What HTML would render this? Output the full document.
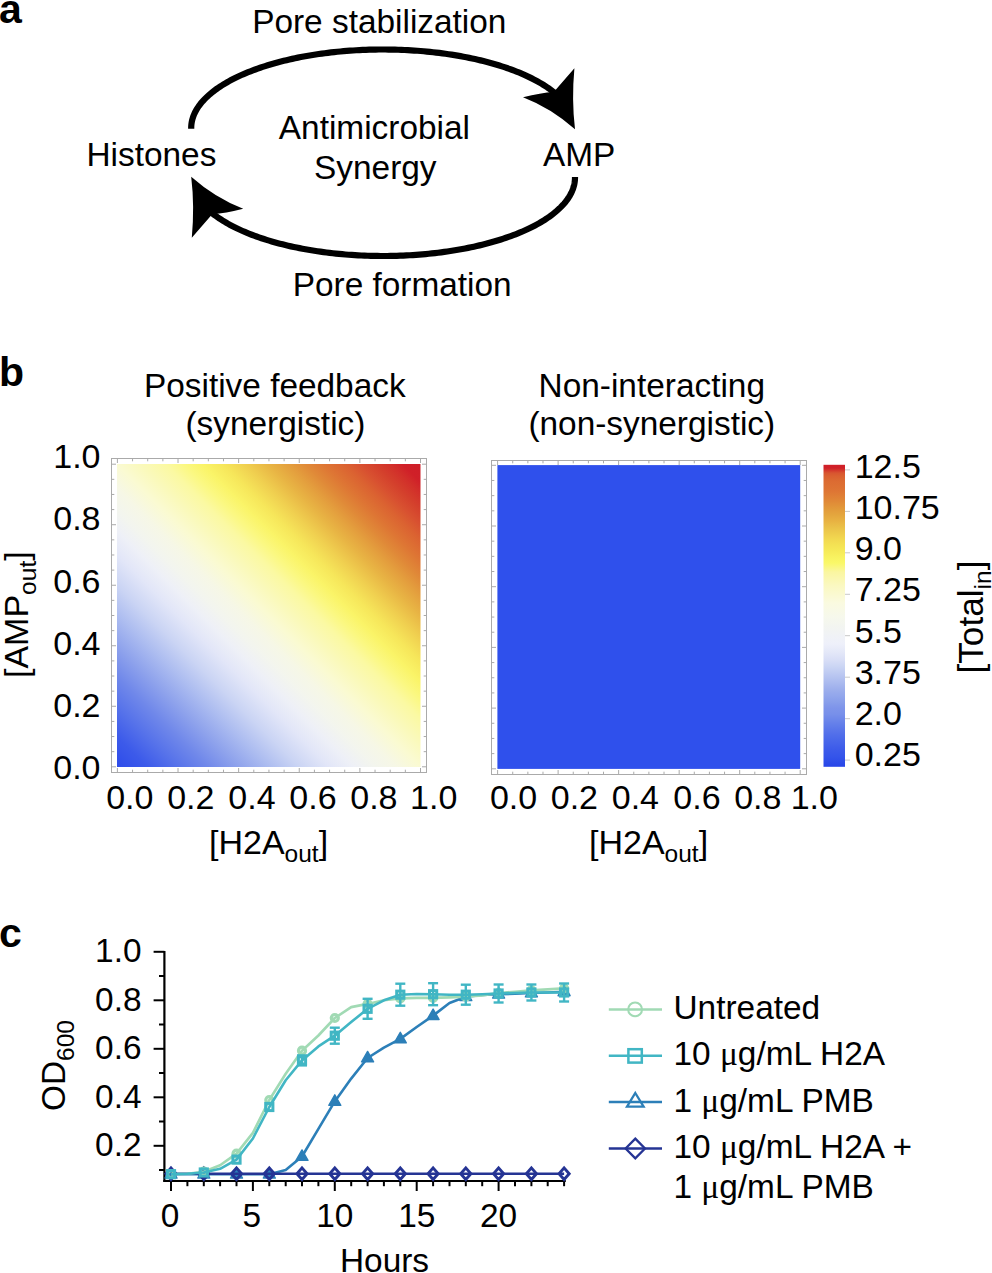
<!DOCTYPE html><html><head><meta charset="utf-8"><style>html,body{margin:0;padding:0;background:#fff;}svg{display:block}text{font-family:"Liberation Sans", sans-serif;fill:#000}</style></head><body>
<svg width="992" height="1273" viewBox="0 0 992 1273">
<text x="-1" y="22.6" font-size="41" font-weight="bold">a</text>
<text x="379.3" y="33.3" font-size="33.4" text-anchor="middle" >Pore stabilization</text>
<text x="151.4" y="165.5" font-size="33.4" text-anchor="middle" >Histones</text>
<text x="374.4" y="139.2" font-size="33.4" text-anchor="middle" >Antimicrobial</text>
<text x="375.3" y="178.7" font-size="33.4" text-anchor="middle" >Synergy</text>
<text x="579.2" y="165.5" font-size="33.4" text-anchor="middle" >AMP</text>
<text x="402.2" y="296.3" font-size="33.4" text-anchor="middle" >Pore formation</text>
<path d="M 191.20 128.8 L 191.20 128.00 L 191.23 126.68 L 191.31 125.36 L 191.44 124.04 L 191.63 122.72 L 191.88 121.40 L 192.18 120.09 L 192.53 118.77 L 192.94 117.46 L 193.40 116.15 L 193.91 114.85 L 194.48 113.55 L 195.10 112.25 L 195.77 110.96 L 196.50 109.67 L 197.28 108.39 L 198.12 107.12 L 199.00 105.85 L 199.94 104.58 L 200.93 103.32 L 201.97 102.07 L 203.06 100.83 L 204.20 99.59 L 205.40 98.37 L 206.64 97.15 L 207.94 95.94 L 209.28 94.74 L 210.67 93.54 L 212.12 92.36 L 213.61 91.19 L 215.15 90.03 L 216.73 88.88 L 218.36 87.74 L 220.04 86.61 L 221.77 85.49 L 223.54 84.39 L 225.36 83.29 L 227.22 82.22 L 229.13 81.15 L 231.08 80.10 L 233.07 79.06 L 235.10 78.03 L 237.18 77.02 L 239.30 76.02 L 241.46 75.04 L 243.66 74.07 L 245.89 73.12 L 248.17 72.18 L 250.49 71.26 L 252.84 70.35 L 255.23 69.47 L 257.66 68.59 L 260.12 67.74 L 262.61 66.90 L 265.15 66.08 L 267.71 65.28 L 270.31 64.49 L 272.94 63.72 L 275.60 62.97 L 278.29 62.24 L 281.01 61.53 L 283.76 60.84 L 286.53 60.16 L 289.34 59.51 L 292.17 58.87 L 295.02 58.26 L 297.91 57.66 L 300.81 57.08 L 303.74 56.53 L 306.69 55.99 L 309.67 55.47 L 312.66 54.98 L 315.68 54.50 L 318.71 54.05 L 321.76 53.62 L 324.83 53.21 L 327.91 52.82 L 331.01 52.45 L 334.13 52.10 L 337.26 51.77 L 340.40 51.47 L 343.56 51.18 L 346.72 50.92 L 349.90 50.68 L 353.09 50.47 L 356.28 50.27 L 359.48 50.10 L 362.69 49.95 L 365.90 49.82 L 369.12 49.71 L 372.35 49.62 L 375.57 49.56 L 378.80 49.52 L 382.03 49.50 L 385.26 49.50 L 388.49 49.53 L 391.72 49.58 L 394.94 49.65 L 398.16 49.74 L 401.38 49.86 L 404.59 49.99 L 407.80 50.15 L 411.00 50.33 L 414.19 50.54 L 417.37 50.76 L 420.54 51.01 L 423.71 51.28 L 426.86 51.57 L 430.00 51.88 L 433.12 52.21 L 436.23 52.57 L 439.33 52.95 L 442.41 53.34 L 445.47 53.76 L 448.52 54.20 L 451.54 54.66 L 454.55 55.14 L 457.54 55.65 L 460.50 56.17 L 463.45 56.71 L 466.37 57.28 L 469.27 57.86 L 472.14 58.46 L 474.99 59.08 L 477.81 59.73 L 480.61 60.39 L 483.37 61.07 L 486.11 61.77 L 488.82 62.49 L 491.50 63.22 L 494.15 63.98 L 496.77 64.75 L 499.36 65.55 L 501.91 66.35 L 504.43 67.18 L 506.91 68.03 L 509.36 68.89 L 511.78 69.76 L 514.16 70.66 L 516.50 71.57 L 518.80 72.49 L 521.06 73.44 L 523.29 74.39 L 525.47 75.37 L 527.62 76.35 L 529.72 77.36 L 531.79 78.37 L 533.81 79.40 L 535.79 80.45 L 537.72 81.51 L 539.61 82.58 L 541.46 83.66 L 543.26 84.76 L 545.02 85.87 L 546.73 86.99 L 548.39 88.12 L 550.01 89.26 L 551.58 90.42 L 553.10 91.58 L 554.57 92.76 L 556.00 93.94" fill="none" stroke="#000" stroke-width="6.2"/>
<path d="M 575.00 177.0 L 575.00 177.50 L 574.97 178.82 L 574.89 180.14 L 574.76 181.47 L 574.56 182.79 L 574.32 184.10 L 574.02 185.42 L 573.67 186.74 L 573.26 188.05 L 572.80 189.36 L 572.28 190.66 L 571.71 191.96 L 571.09 193.26 L 570.42 194.55 L 569.69 195.84 L 568.91 197.12 L 568.07 198.40 L 567.18 199.67 L 566.25 200.94 L 565.25 202.20 L 564.21 203.45 L 563.12 204.69 L 561.97 205.93 L 560.78 207.16 L 559.53 208.38 L 558.23 209.59 L 556.89 210.79 L 555.49 211.99 L 554.05 213.17 L 552.55 214.34 L 551.01 215.50 L 549.42 216.66 L 547.79 217.80 L 546.11 218.92 L 544.38 220.04 L 542.60 221.15 L 540.78 222.24 L 538.92 223.32 L 537.01 224.39 L 535.06 225.44 L 533.06 226.48 L 531.02 227.51 L 528.94 228.52 L 526.82 229.52 L 524.66 230.50 L 522.45 231.47 L 520.21 232.42 L 517.93 233.36 L 515.61 234.28 L 513.26 235.18 L 510.86 236.07 L 508.43 236.95 L 505.97 237.80 L 503.47 238.64 L 500.93 239.46 L 498.36 240.26 L 495.76 241.05 L 493.13 241.81 L 490.47 242.56 L 487.77 243.29 L 485.05 244.01 L 482.29 244.70 L 479.51 245.37 L 476.70 246.03 L 473.87 246.66 L 471.01 247.28 L 468.12 247.87 L 465.21 248.45 L 462.28 249.01 L 459.32 249.54 L 456.35 250.06 L 453.35 250.55 L 450.33 251.02 L 447.29 251.48 L 444.24 251.91 L 441.16 252.32 L 438.08 252.71 L 434.97 253.08 L 431.85 253.42 L 428.72 253.75 L 425.57 254.05 L 422.41 254.34 L 419.24 254.60 L 416.06 254.83 L 412.88 255.05 L 409.68 255.24 L 406.47 255.42 L 403.26 255.57 L 400.04 255.69 L 396.82 255.80 L 393.60 255.88 L 390.37 255.94 L 387.13 255.98 L 383.90 256.00 L 380.67 255.99 L 377.44 255.97 L 374.21 255.92 L 370.98 255.84 L 367.76 255.75 L 364.54 255.63 L 361.32 255.49 L 358.11 255.33 L 354.91 255.15 L 351.72 254.94 L 348.53 254.72 L 345.36 254.47 L 342.19 254.20 L 339.04 253.90 L 335.90 253.59 L 332.78 253.25 L 329.66 252.90 L 326.57 252.52 L 323.49 252.12 L 320.42 251.69 L 317.38 251.25 L 314.35 250.79 L 311.34 250.30 L 308.35 249.80 L 305.39 249.27 L 302.44 248.73 L 299.52 248.16 L 296.62 247.58 L 293.75 246.97 L 290.90 246.35 L 288.08 245.70 L 285.28 245.04 L 282.52 244.35 L 279.78 243.65 L 277.07 242.93 L 274.39 242.19 L 271.74 241.43 L 269.12 240.65 L 266.54 239.86 L 263.99 239.05 L 261.47 238.22 L 258.99 237.37 L 256.54 236.51 L 254.13 235.63 L 251.75 234.73 L 249.41 233.82 L 247.11 232.89 L 244.85 231.94 L 242.63 230.98 L 240.45 230.01 L 238.31 229.02 L 236.21 228.01 L 234.15 226.99 L 232.13 225.96 L 230.16 224.91 L 228.23 223.85 L 226.34 222.78 L 224.50 221.69 L 222.70 220.59 L 220.95 219.48 L 219.24 218.36 L 217.58 217.22 L 215.97 216.08 L 214.41 214.92 L 212.89 213.75 L 211.42 212.57 L 210.00 211.39" fill="none" stroke="#000" stroke-width="6.2"/>
<path d="M 574.4 68.2 Q 571.5 100 575 129.2 Q 551 108 523 97.2 Q 541 92.5 553.8 91.9 Z" fill="#000"/>
<path d="M 574.4 68.2 Q 571.5 100 575 129.2 Q 551 108 523 97.2 Q 541 92.5 553.8 91.9 Z" fill="#000" transform="rotate(180 383.1 153)"/>
<text x="-1" y="386.3" font-size="41" font-weight="bold">b</text>
<text x="274.8" y="396.5" font-size="33.4" text-anchor="middle" >Positive feedback</text>
<text x="275.4" y="434.5" font-size="33.4" text-anchor="middle" >(synergistic)</text>
<text x="651.8" y="396.5" font-size="33.4" text-anchor="middle" >Non-interacting</text>
<text x="651.8" y="434.5" font-size="33.4" text-anchor="middle" >(non-synergistic)</text>
<defs><linearGradient id="hm" x1="0" y1="1" x2="1" y2="0"><stop offset="0.0000" stop-color="#2E4CEA"/><stop offset="0.0500" stop-color="#3C5AEA"/><stop offset="0.1000" stop-color="#5672EA"/><stop offset="0.1500" stop-color="#7088EA"/><stop offset="0.2000" stop-color="#8EA2EC"/><stop offset="0.2500" stop-color="#ACBCF0"/><stop offset="0.3000" stop-color="#CAD4F4"/><stop offset="0.3500" stop-color="#E2E6F8"/><stop offset="0.3900" stop-color="#EEF0F7"/><stop offset="0.4250" stop-color="#F3F5EE"/><stop offset="0.4600" stop-color="#F6F7E6"/><stop offset="0.5000" stop-color="#FAFAD2"/><stop offset="0.5400" stop-color="#FAF9BA"/><stop offset="0.5800" stop-color="#FBF9A2"/><stop offset="0.6100" stop-color="#FBF882"/><stop offset="0.6400" stop-color="#FAF468"/><stop offset="0.6750" stop-color="#F6E65A"/><stop offset="0.7100" stop-color="#F0D050"/><stop offset="0.7500" stop-color="#E8B444"/><stop offset="0.7800" stop-color="#E4A03E"/><stop offset="0.8100" stop-color="#E08A38"/><stop offset="0.8400" stop-color="#DE7634"/><stop offset="0.8750" stop-color="#DB6231"/><stop offset="0.9000" stop-color="#D85030"/><stop offset="0.9250" stop-color="#D4402C"/><stop offset="0.9500" stop-color="#D2302A"/><stop offset="0.9700" stop-color="#D02028"/><stop offset="1.0000" stop-color="#CE1E28"/></linearGradient><linearGradient id="cb" x1="0" y1="1" x2="0" y2="0"><stop offset="0.0026" stop-color="#2846E8"/><stop offset="0.0325" stop-color="#3454EA"/><stop offset="0.0556" stop-color="#3C5AEA"/><stop offset="0.0755" stop-color="#4462EA"/><stop offset="0.0954" stop-color="#4C6AEA"/><stop offset="0.1152" stop-color="#5672EA"/><stop offset="0.1351" stop-color="#607CEA"/><stop offset="0.1550" stop-color="#6C86EA"/><stop offset="0.1748" stop-color="#7890EA"/><stop offset="0.1947" stop-color="#7E94EA"/><stop offset="0.2146" stop-color="#889EEA"/><stop offset="0.2344" stop-color="#92A6EC"/><stop offset="0.2543" stop-color="#9CAEEC"/><stop offset="0.2742" stop-color="#A8B8EE"/><stop offset="0.2940" stop-color="#B4C2F0"/><stop offset="0.3139" stop-color="#C0CCF2"/><stop offset="0.3338" stop-color="#CCD6F4"/><stop offset="0.3536" stop-color="#D8DEF6"/><stop offset="0.3801" stop-color="#E4E8F8"/><stop offset="0.4066" stop-color="#EEF0FA"/><stop offset="0.4331" stop-color="#F0F2F6"/><stop offset="0.4563" stop-color="#F2F4F2"/><stop offset="0.4960" stop-color="#F6F8EC"/><stop offset="0.5424" stop-color="#FAFAE0"/><stop offset="0.6020" stop-color="#FAF8C0"/><stop offset="0.6450" stop-color="#FAF6A0"/><stop offset="0.6748" stop-color="#FAF868"/><stop offset="0.6947" stop-color="#F8F260"/><stop offset="0.7146" stop-color="#F6EA58"/><stop offset="0.7344" stop-color="#F4E254"/><stop offset="0.7543" stop-color="#F2D850"/><stop offset="0.7742" stop-color="#EECC4C"/><stop offset="0.7940" stop-color="#EAC048"/><stop offset="0.8139" stop-color="#E8B242"/><stop offset="0.8338" stop-color="#E4A63E"/><stop offset="0.8536" stop-color="#E29A3A"/><stop offset="0.8834" stop-color="#E08636"/><stop offset="0.9132" stop-color="#DE7534"/><stop offset="0.9464" stop-color="#DC6B32"/><stop offset="0.9629" stop-color="#DA6030"/><stop offset="0.9728" stop-color="#D85530"/><stop offset="0.9894" stop-color="#D02028"/><stop offset="1.0000" stop-color="#D02028"/></linearGradient></defs>
<rect x="117" y="464" width="303.5" height="303" fill="url(#hm)"/>
<rect x="111.5" y="458.5" width="315.0" height="314.0" fill="none" stroke="#AAAAAA" stroke-width="1"/>
<line x1="117.40" y1="458.5" x2="117.40" y2="463.0" stroke="#AAAAAA" stroke-width="1"/>
<line x1="117.40" y1="772.5" x2="117.40" y2="768.0" stroke="#AAAAAA" stroke-width="1"/>
<line x1="111.5" y1="766.80" x2="116.0" y2="766.80" stroke="#AAAAAA" stroke-width="1"/>
<line x1="426.5" y1="766.80" x2="422.0" y2="766.80" stroke="#AAAAAA" stroke-width="1"/>
<line x1="132.56" y1="458.5" x2="132.56" y2="461.3" stroke="#AAAAAA" stroke-width="1"/>
<line x1="132.56" y1="772.5" x2="132.56" y2="769.7" stroke="#AAAAAA" stroke-width="1"/>
<line x1="111.5" y1="751.67" x2="114.3" y2="751.67" stroke="#AAAAAA" stroke-width="1"/>
<line x1="426.5" y1="751.67" x2="423.7" y2="751.67" stroke="#AAAAAA" stroke-width="1"/>
<line x1="147.71" y1="458.5" x2="147.71" y2="461.3" stroke="#AAAAAA" stroke-width="1"/>
<line x1="147.71" y1="772.5" x2="147.71" y2="769.7" stroke="#AAAAAA" stroke-width="1"/>
<line x1="111.5" y1="736.54" x2="114.3" y2="736.54" stroke="#AAAAAA" stroke-width="1"/>
<line x1="426.5" y1="736.54" x2="423.7" y2="736.54" stroke="#AAAAAA" stroke-width="1"/>
<line x1="162.87" y1="458.5" x2="162.87" y2="461.3" stroke="#AAAAAA" stroke-width="1"/>
<line x1="162.87" y1="772.5" x2="162.87" y2="769.7" stroke="#AAAAAA" stroke-width="1"/>
<line x1="111.5" y1="721.41" x2="114.3" y2="721.41" stroke="#AAAAAA" stroke-width="1"/>
<line x1="426.5" y1="721.41" x2="423.7" y2="721.41" stroke="#AAAAAA" stroke-width="1"/>
<line x1="178.02" y1="458.5" x2="178.02" y2="463.0" stroke="#AAAAAA" stroke-width="1"/>
<line x1="178.02" y1="772.5" x2="178.02" y2="768.0" stroke="#AAAAAA" stroke-width="1"/>
<line x1="111.5" y1="706.28" x2="116.0" y2="706.28" stroke="#AAAAAA" stroke-width="1"/>
<line x1="426.5" y1="706.28" x2="422.0" y2="706.28" stroke="#AAAAAA" stroke-width="1"/>
<line x1="193.18" y1="458.5" x2="193.18" y2="461.3" stroke="#AAAAAA" stroke-width="1"/>
<line x1="193.18" y1="772.5" x2="193.18" y2="769.7" stroke="#AAAAAA" stroke-width="1"/>
<line x1="111.5" y1="691.15" x2="114.3" y2="691.15" stroke="#AAAAAA" stroke-width="1"/>
<line x1="426.5" y1="691.15" x2="423.7" y2="691.15" stroke="#AAAAAA" stroke-width="1"/>
<line x1="208.33" y1="458.5" x2="208.33" y2="461.3" stroke="#AAAAAA" stroke-width="1"/>
<line x1="208.33" y1="772.5" x2="208.33" y2="769.7" stroke="#AAAAAA" stroke-width="1"/>
<line x1="111.5" y1="676.02" x2="114.3" y2="676.02" stroke="#AAAAAA" stroke-width="1"/>
<line x1="426.5" y1="676.02" x2="423.7" y2="676.02" stroke="#AAAAAA" stroke-width="1"/>
<line x1="223.49" y1="458.5" x2="223.49" y2="461.3" stroke="#AAAAAA" stroke-width="1"/>
<line x1="223.49" y1="772.5" x2="223.49" y2="769.7" stroke="#AAAAAA" stroke-width="1"/>
<line x1="111.5" y1="660.89" x2="114.3" y2="660.89" stroke="#AAAAAA" stroke-width="1"/>
<line x1="426.5" y1="660.89" x2="423.7" y2="660.89" stroke="#AAAAAA" stroke-width="1"/>
<line x1="238.64" y1="458.5" x2="238.64" y2="463.0" stroke="#AAAAAA" stroke-width="1"/>
<line x1="238.64" y1="772.5" x2="238.64" y2="768.0" stroke="#AAAAAA" stroke-width="1"/>
<line x1="111.5" y1="645.76" x2="116.0" y2="645.76" stroke="#AAAAAA" stroke-width="1"/>
<line x1="426.5" y1="645.76" x2="422.0" y2="645.76" stroke="#AAAAAA" stroke-width="1"/>
<line x1="253.80" y1="458.5" x2="253.80" y2="461.3" stroke="#AAAAAA" stroke-width="1"/>
<line x1="253.80" y1="772.5" x2="253.80" y2="769.7" stroke="#AAAAAA" stroke-width="1"/>
<line x1="111.5" y1="630.63" x2="114.3" y2="630.63" stroke="#AAAAAA" stroke-width="1"/>
<line x1="426.5" y1="630.63" x2="423.7" y2="630.63" stroke="#AAAAAA" stroke-width="1"/>
<line x1="268.95" y1="458.5" x2="268.95" y2="461.3" stroke="#AAAAAA" stroke-width="1"/>
<line x1="268.95" y1="772.5" x2="268.95" y2="769.7" stroke="#AAAAAA" stroke-width="1"/>
<line x1="111.5" y1="615.50" x2="114.3" y2="615.50" stroke="#AAAAAA" stroke-width="1"/>
<line x1="426.5" y1="615.50" x2="423.7" y2="615.50" stroke="#AAAAAA" stroke-width="1"/>
<line x1="284.11" y1="458.5" x2="284.11" y2="461.3" stroke="#AAAAAA" stroke-width="1"/>
<line x1="284.11" y1="772.5" x2="284.11" y2="769.7" stroke="#AAAAAA" stroke-width="1"/>
<line x1="111.5" y1="600.37" x2="114.3" y2="600.37" stroke="#AAAAAA" stroke-width="1"/>
<line x1="426.5" y1="600.37" x2="423.7" y2="600.37" stroke="#AAAAAA" stroke-width="1"/>
<line x1="299.26" y1="458.5" x2="299.26" y2="463.0" stroke="#AAAAAA" stroke-width="1"/>
<line x1="299.26" y1="772.5" x2="299.26" y2="768.0" stroke="#AAAAAA" stroke-width="1"/>
<line x1="111.5" y1="585.24" x2="116.0" y2="585.24" stroke="#AAAAAA" stroke-width="1"/>
<line x1="426.5" y1="585.24" x2="422.0" y2="585.24" stroke="#AAAAAA" stroke-width="1"/>
<line x1="314.42" y1="458.5" x2="314.42" y2="461.3" stroke="#AAAAAA" stroke-width="1"/>
<line x1="314.42" y1="772.5" x2="314.42" y2="769.7" stroke="#AAAAAA" stroke-width="1"/>
<line x1="111.5" y1="570.11" x2="114.3" y2="570.11" stroke="#AAAAAA" stroke-width="1"/>
<line x1="426.5" y1="570.11" x2="423.7" y2="570.11" stroke="#AAAAAA" stroke-width="1"/>
<line x1="329.57" y1="458.5" x2="329.57" y2="461.3" stroke="#AAAAAA" stroke-width="1"/>
<line x1="329.57" y1="772.5" x2="329.57" y2="769.7" stroke="#AAAAAA" stroke-width="1"/>
<line x1="111.5" y1="554.98" x2="114.3" y2="554.98" stroke="#AAAAAA" stroke-width="1"/>
<line x1="426.5" y1="554.98" x2="423.7" y2="554.98" stroke="#AAAAAA" stroke-width="1"/>
<line x1="344.73" y1="458.5" x2="344.73" y2="461.3" stroke="#AAAAAA" stroke-width="1"/>
<line x1="344.73" y1="772.5" x2="344.73" y2="769.7" stroke="#AAAAAA" stroke-width="1"/>
<line x1="111.5" y1="539.85" x2="114.3" y2="539.85" stroke="#AAAAAA" stroke-width="1"/>
<line x1="426.5" y1="539.85" x2="423.7" y2="539.85" stroke="#AAAAAA" stroke-width="1"/>
<line x1="359.88" y1="458.5" x2="359.88" y2="463.0" stroke="#AAAAAA" stroke-width="1"/>
<line x1="359.88" y1="772.5" x2="359.88" y2="768.0" stroke="#AAAAAA" stroke-width="1"/>
<line x1="111.5" y1="524.72" x2="116.0" y2="524.72" stroke="#AAAAAA" stroke-width="1"/>
<line x1="426.5" y1="524.72" x2="422.0" y2="524.72" stroke="#AAAAAA" stroke-width="1"/>
<line x1="375.04" y1="458.5" x2="375.04" y2="461.3" stroke="#AAAAAA" stroke-width="1"/>
<line x1="375.04" y1="772.5" x2="375.04" y2="769.7" stroke="#AAAAAA" stroke-width="1"/>
<line x1="111.5" y1="509.59" x2="114.3" y2="509.59" stroke="#AAAAAA" stroke-width="1"/>
<line x1="426.5" y1="509.59" x2="423.7" y2="509.59" stroke="#AAAAAA" stroke-width="1"/>
<line x1="390.19" y1="458.5" x2="390.19" y2="461.3" stroke="#AAAAAA" stroke-width="1"/>
<line x1="390.19" y1="772.5" x2="390.19" y2="769.7" stroke="#AAAAAA" stroke-width="1"/>
<line x1="111.5" y1="494.46" x2="114.3" y2="494.46" stroke="#AAAAAA" stroke-width="1"/>
<line x1="426.5" y1="494.46" x2="423.7" y2="494.46" stroke="#AAAAAA" stroke-width="1"/>
<line x1="405.35" y1="458.5" x2="405.35" y2="461.3" stroke="#AAAAAA" stroke-width="1"/>
<line x1="405.35" y1="772.5" x2="405.35" y2="769.7" stroke="#AAAAAA" stroke-width="1"/>
<line x1="111.5" y1="479.33" x2="114.3" y2="479.33" stroke="#AAAAAA" stroke-width="1"/>
<line x1="426.5" y1="479.33" x2="423.7" y2="479.33" stroke="#AAAAAA" stroke-width="1"/>
<line x1="420.50" y1="458.5" x2="420.50" y2="463.0" stroke="#AAAAAA" stroke-width="1"/>
<line x1="420.50" y1="772.5" x2="420.50" y2="768.0" stroke="#AAAAAA" stroke-width="1"/>
<line x1="111.5" y1="464.20" x2="116.0" y2="464.20" stroke="#AAAAAA" stroke-width="1"/>
<line x1="426.5" y1="464.20" x2="422.0" y2="464.20" stroke="#AAAAAA" stroke-width="1"/>
<rect x="497.4" y="465.1" width="302.8" height="303.8" fill="#2F50EC"/>
<rect x="491.5" y="460.5" width="315.0" height="314.0" fill="none" stroke="#AAAAAA" stroke-width="1"/>
<line x1="497.60" y1="460.5" x2="497.60" y2="465.0" stroke="#AAAAAA" stroke-width="1"/>
<line x1="497.60" y1="774.5" x2="497.60" y2="770.0" stroke="#AAAAAA" stroke-width="1"/>
<line x1="491.5" y1="768.80" x2="496.0" y2="768.80" stroke="#AAAAAA" stroke-width="1"/>
<line x1="806.5" y1="768.80" x2="802.0" y2="768.80" stroke="#AAAAAA" stroke-width="1"/>
<line x1="512.73" y1="460.5" x2="512.73" y2="463.3" stroke="#AAAAAA" stroke-width="1"/>
<line x1="512.73" y1="774.5" x2="512.73" y2="771.7" stroke="#AAAAAA" stroke-width="1"/>
<line x1="491.5" y1="753.62" x2="494.3" y2="753.62" stroke="#AAAAAA" stroke-width="1"/>
<line x1="806.5" y1="753.62" x2="803.7" y2="753.62" stroke="#AAAAAA" stroke-width="1"/>
<line x1="527.86" y1="460.5" x2="527.86" y2="463.3" stroke="#AAAAAA" stroke-width="1"/>
<line x1="527.86" y1="774.5" x2="527.86" y2="771.7" stroke="#AAAAAA" stroke-width="1"/>
<line x1="491.5" y1="738.45" x2="494.3" y2="738.45" stroke="#AAAAAA" stroke-width="1"/>
<line x1="806.5" y1="738.45" x2="803.7" y2="738.45" stroke="#AAAAAA" stroke-width="1"/>
<line x1="542.99" y1="460.5" x2="542.99" y2="463.3" stroke="#AAAAAA" stroke-width="1"/>
<line x1="542.99" y1="774.5" x2="542.99" y2="771.7" stroke="#AAAAAA" stroke-width="1"/>
<line x1="491.5" y1="723.27" x2="494.3" y2="723.27" stroke="#AAAAAA" stroke-width="1"/>
<line x1="806.5" y1="723.27" x2="803.7" y2="723.27" stroke="#AAAAAA" stroke-width="1"/>
<line x1="558.12" y1="460.5" x2="558.12" y2="465.0" stroke="#AAAAAA" stroke-width="1"/>
<line x1="558.12" y1="774.5" x2="558.12" y2="770.0" stroke="#AAAAAA" stroke-width="1"/>
<line x1="491.5" y1="708.10" x2="496.0" y2="708.10" stroke="#AAAAAA" stroke-width="1"/>
<line x1="806.5" y1="708.10" x2="802.0" y2="708.10" stroke="#AAAAAA" stroke-width="1"/>
<line x1="573.25" y1="460.5" x2="573.25" y2="463.3" stroke="#AAAAAA" stroke-width="1"/>
<line x1="573.25" y1="774.5" x2="573.25" y2="771.7" stroke="#AAAAAA" stroke-width="1"/>
<line x1="491.5" y1="692.92" x2="494.3" y2="692.92" stroke="#AAAAAA" stroke-width="1"/>
<line x1="806.5" y1="692.92" x2="803.7" y2="692.92" stroke="#AAAAAA" stroke-width="1"/>
<line x1="588.38" y1="460.5" x2="588.38" y2="463.3" stroke="#AAAAAA" stroke-width="1"/>
<line x1="588.38" y1="774.5" x2="588.38" y2="771.7" stroke="#AAAAAA" stroke-width="1"/>
<line x1="491.5" y1="677.75" x2="494.3" y2="677.75" stroke="#AAAAAA" stroke-width="1"/>
<line x1="806.5" y1="677.75" x2="803.7" y2="677.75" stroke="#AAAAAA" stroke-width="1"/>
<line x1="603.51" y1="460.5" x2="603.51" y2="463.3" stroke="#AAAAAA" stroke-width="1"/>
<line x1="603.51" y1="774.5" x2="603.51" y2="771.7" stroke="#AAAAAA" stroke-width="1"/>
<line x1="491.5" y1="662.57" x2="494.3" y2="662.57" stroke="#AAAAAA" stroke-width="1"/>
<line x1="806.5" y1="662.57" x2="803.7" y2="662.57" stroke="#AAAAAA" stroke-width="1"/>
<line x1="618.64" y1="460.5" x2="618.64" y2="465.0" stroke="#AAAAAA" stroke-width="1"/>
<line x1="618.64" y1="774.5" x2="618.64" y2="770.0" stroke="#AAAAAA" stroke-width="1"/>
<line x1="491.5" y1="647.40" x2="496.0" y2="647.40" stroke="#AAAAAA" stroke-width="1"/>
<line x1="806.5" y1="647.40" x2="802.0" y2="647.40" stroke="#AAAAAA" stroke-width="1"/>
<line x1="633.77" y1="460.5" x2="633.77" y2="463.3" stroke="#AAAAAA" stroke-width="1"/>
<line x1="633.77" y1="774.5" x2="633.77" y2="771.7" stroke="#AAAAAA" stroke-width="1"/>
<line x1="491.5" y1="632.22" x2="494.3" y2="632.22" stroke="#AAAAAA" stroke-width="1"/>
<line x1="806.5" y1="632.22" x2="803.7" y2="632.22" stroke="#AAAAAA" stroke-width="1"/>
<line x1="648.90" y1="460.5" x2="648.90" y2="463.3" stroke="#AAAAAA" stroke-width="1"/>
<line x1="648.90" y1="774.5" x2="648.90" y2="771.7" stroke="#AAAAAA" stroke-width="1"/>
<line x1="491.5" y1="617.05" x2="494.3" y2="617.05" stroke="#AAAAAA" stroke-width="1"/>
<line x1="806.5" y1="617.05" x2="803.7" y2="617.05" stroke="#AAAAAA" stroke-width="1"/>
<line x1="664.03" y1="460.5" x2="664.03" y2="463.3" stroke="#AAAAAA" stroke-width="1"/>
<line x1="664.03" y1="774.5" x2="664.03" y2="771.7" stroke="#AAAAAA" stroke-width="1"/>
<line x1="491.5" y1="601.88" x2="494.3" y2="601.88" stroke="#AAAAAA" stroke-width="1"/>
<line x1="806.5" y1="601.88" x2="803.7" y2="601.88" stroke="#AAAAAA" stroke-width="1"/>
<line x1="679.16" y1="460.5" x2="679.16" y2="465.0" stroke="#AAAAAA" stroke-width="1"/>
<line x1="679.16" y1="774.5" x2="679.16" y2="770.0" stroke="#AAAAAA" stroke-width="1"/>
<line x1="491.5" y1="586.70" x2="496.0" y2="586.70" stroke="#AAAAAA" stroke-width="1"/>
<line x1="806.5" y1="586.70" x2="802.0" y2="586.70" stroke="#AAAAAA" stroke-width="1"/>
<line x1="694.29" y1="460.5" x2="694.29" y2="463.3" stroke="#AAAAAA" stroke-width="1"/>
<line x1="694.29" y1="774.5" x2="694.29" y2="771.7" stroke="#AAAAAA" stroke-width="1"/>
<line x1="491.5" y1="571.52" x2="494.3" y2="571.52" stroke="#AAAAAA" stroke-width="1"/>
<line x1="806.5" y1="571.52" x2="803.7" y2="571.52" stroke="#AAAAAA" stroke-width="1"/>
<line x1="709.42" y1="460.5" x2="709.42" y2="463.3" stroke="#AAAAAA" stroke-width="1"/>
<line x1="709.42" y1="774.5" x2="709.42" y2="771.7" stroke="#AAAAAA" stroke-width="1"/>
<line x1="491.5" y1="556.35" x2="494.3" y2="556.35" stroke="#AAAAAA" stroke-width="1"/>
<line x1="806.5" y1="556.35" x2="803.7" y2="556.35" stroke="#AAAAAA" stroke-width="1"/>
<line x1="724.55" y1="460.5" x2="724.55" y2="463.3" stroke="#AAAAAA" stroke-width="1"/>
<line x1="724.55" y1="774.5" x2="724.55" y2="771.7" stroke="#AAAAAA" stroke-width="1"/>
<line x1="491.5" y1="541.17" x2="494.3" y2="541.17" stroke="#AAAAAA" stroke-width="1"/>
<line x1="806.5" y1="541.17" x2="803.7" y2="541.17" stroke="#AAAAAA" stroke-width="1"/>
<line x1="739.68" y1="460.5" x2="739.68" y2="465.0" stroke="#AAAAAA" stroke-width="1"/>
<line x1="739.68" y1="774.5" x2="739.68" y2="770.0" stroke="#AAAAAA" stroke-width="1"/>
<line x1="491.5" y1="526.00" x2="496.0" y2="526.00" stroke="#AAAAAA" stroke-width="1"/>
<line x1="806.5" y1="526.00" x2="802.0" y2="526.00" stroke="#AAAAAA" stroke-width="1"/>
<line x1="754.81" y1="460.5" x2="754.81" y2="463.3" stroke="#AAAAAA" stroke-width="1"/>
<line x1="754.81" y1="774.5" x2="754.81" y2="771.7" stroke="#AAAAAA" stroke-width="1"/>
<line x1="491.5" y1="510.82" x2="494.3" y2="510.82" stroke="#AAAAAA" stroke-width="1"/>
<line x1="806.5" y1="510.82" x2="803.7" y2="510.82" stroke="#AAAAAA" stroke-width="1"/>
<line x1="769.94" y1="460.5" x2="769.94" y2="463.3" stroke="#AAAAAA" stroke-width="1"/>
<line x1="769.94" y1="774.5" x2="769.94" y2="771.7" stroke="#AAAAAA" stroke-width="1"/>
<line x1="491.5" y1="495.65" x2="494.3" y2="495.65" stroke="#AAAAAA" stroke-width="1"/>
<line x1="806.5" y1="495.65" x2="803.7" y2="495.65" stroke="#AAAAAA" stroke-width="1"/>
<line x1="785.07" y1="460.5" x2="785.07" y2="463.3" stroke="#AAAAAA" stroke-width="1"/>
<line x1="785.07" y1="774.5" x2="785.07" y2="771.7" stroke="#AAAAAA" stroke-width="1"/>
<line x1="491.5" y1="480.48" x2="494.3" y2="480.48" stroke="#AAAAAA" stroke-width="1"/>
<line x1="806.5" y1="480.48" x2="803.7" y2="480.48" stroke="#AAAAAA" stroke-width="1"/>
<line x1="800.20" y1="460.5" x2="800.20" y2="465.0" stroke="#AAAAAA" stroke-width="1"/>
<line x1="800.20" y1="774.5" x2="800.20" y2="770.0" stroke="#AAAAAA" stroke-width="1"/>
<line x1="491.5" y1="465.30" x2="496.0" y2="465.30" stroke="#AAAAAA" stroke-width="1"/>
<line x1="806.5" y1="465.30" x2="802.0" y2="465.30" stroke="#AAAAAA" stroke-width="1"/>
<text x="100.5" y="468.3" font-size="34" text-anchor="end" >1.0</text>
<text x="100.5" y="530.4" font-size="34" text-anchor="end" >0.8</text>
<text x="100.5" y="592.5" font-size="34" text-anchor="end" >0.6</text>
<text x="100.5" y="654.5" font-size="34" text-anchor="end" >0.4</text>
<text x="100.5" y="716.6" font-size="34" text-anchor="end" >0.2</text>
<text x="100.5" y="778.7" font-size="34" text-anchor="end" >0.0</text>
<text x="129.8" y="808.7" font-size="34" text-anchor="middle" >0.0</text>
<text x="190.8" y="808.7" font-size="34" text-anchor="middle" >0.2</text>
<text x="252" y="808.7" font-size="34" text-anchor="middle" >0.4</text>
<text x="313" y="808.7" font-size="34" text-anchor="middle" >0.6</text>
<text x="373.9" y="808.7" font-size="34" text-anchor="middle" >0.8</text>
<text x="433.7" y="808.7" font-size="34" text-anchor="middle" >1.0</text>
<text x="513.6" y="808.7" font-size="34" text-anchor="middle" >0.0</text>
<text x="574.4" y="808.7" font-size="34" text-anchor="middle" >0.2</text>
<text x="635.4" y="808.7" font-size="34" text-anchor="middle" >0.4</text>
<text x="697" y="808.7" font-size="34" text-anchor="middle" >0.6</text>
<text x="757.8" y="808.7" font-size="34" text-anchor="middle" >0.8</text>
<text x="814.3" y="808.7" font-size="34" text-anchor="middle" >1.0</text>
<text x="209.0" y="854.2" font-size="34">[H2A<tspan font-size="24.5" dy="8">out</tspan><tspan dy="-8">]</tspan></text>
<text x="589.0" y="854.2" font-size="34">[H2A<tspan font-size="24.5" dy="8">out</tspan><tspan dy="-8">]</tspan></text>
<text transform="translate(27.8 678) rotate(-90)" font-size="34">[AMP<tspan font-size="24.5" dy="8">out</tspan><tspan dy="-8">]</tspan></text>
<rect x="823.5" y="464.8" width="21.5" height="302" fill="url(#cb)"/>
<text x="854.7" y="477.6" font-size="34" text-anchor="start" >12.5</text>
<line x1="845" y1="469.9" x2="850" y2="469.9" stroke="#C8C8C8" stroke-width="1"/>
<text x="854.7" y="518.8" font-size="34" text-anchor="start" >10.75</text>
<line x1="845" y1="511.4" x2="850" y2="511.4" stroke="#C8C8C8" stroke-width="1"/>
<text x="854.7" y="560.1" font-size="34" text-anchor="start" >9.0</text>
<line x1="845" y1="552.8" x2="850" y2="552.8" stroke="#C8C8C8" stroke-width="1"/>
<text x="854.7" y="601.3" font-size="34" text-anchor="start" >7.25</text>
<line x1="845" y1="594.3" x2="850" y2="594.3" stroke="#C8C8C8" stroke-width="1"/>
<text x="854.7" y="642.6" font-size="34" text-anchor="start" >5.5</text>
<line x1="845" y1="635.7" x2="850" y2="635.7" stroke="#C8C8C8" stroke-width="1"/>
<text x="854.7" y="683.8" font-size="34" text-anchor="start" >3.75</text>
<line x1="845" y1="677.2" x2="850" y2="677.2" stroke="#C8C8C8" stroke-width="1"/>
<text x="854.7" y="725.0" font-size="34" text-anchor="start" >2.0</text>
<line x1="845" y1="718.7" x2="850" y2="718.7" stroke="#C8C8C8" stroke-width="1"/>
<text x="854.7" y="766.3" font-size="34" text-anchor="start" >0.25</text>
<line x1="845" y1="760.1" x2="850" y2="760.1" stroke="#C8C8C8" stroke-width="1"/>
<text transform="translate(983 673.5) rotate(-90)" font-size="35.2">[Total<tspan font-size="24.5" dy="8">in</tspan><tspan dy="-8">]</tspan></text>
<text x="-1" y="946.5" font-size="41" font-weight="bold">c</text>
<line x1="164.4" y1="951" x2="164.4" y2="1181.9" stroke="#000" stroke-width="2.2"/>
<line x1="163.3" y1="1180.9" x2="565.8" y2="1180.9" stroke="#000" stroke-width="2"/>
<line x1="159.0" y1="1170.0" x2="164.4" y2="1170.0" stroke="#000" stroke-width="2"/>
<line x1="153.6" y1="1145.8" x2="164.4" y2="1145.8" stroke="#000" stroke-width="2"/>
<line x1="159.0" y1="1121.5" x2="164.4" y2="1121.5" stroke="#000" stroke-width="2"/>
<line x1="153.6" y1="1097.3" x2="164.4" y2="1097.3" stroke="#000" stroke-width="2"/>
<line x1="159.0" y1="1073.0" x2="164.4" y2="1073.0" stroke="#000" stroke-width="2"/>
<line x1="153.6" y1="1048.8" x2="164.4" y2="1048.8" stroke="#000" stroke-width="2"/>
<line x1="159.0" y1="1024.5" x2="164.4" y2="1024.5" stroke="#000" stroke-width="2"/>
<line x1="153.6" y1="1000.3" x2="164.4" y2="1000.3" stroke="#000" stroke-width="2"/>
<line x1="159.0" y1="976.0" x2="164.4" y2="976.0" stroke="#000" stroke-width="2"/>
<line x1="153.6" y1="951.8" x2="164.4" y2="951.8" stroke="#000" stroke-width="2"/>
<line x1="171.0" y1="1180.9" x2="171.0" y2="1191" stroke="#000" stroke-width="2"/>
<line x1="187.4" y1="1180.9" x2="187.4" y2="1186.2" stroke="#000" stroke-width="2"/>
<line x1="203.8" y1="1180.9" x2="203.8" y2="1186.2" stroke="#000" stroke-width="2"/>
<line x1="220.1" y1="1180.9" x2="220.1" y2="1186.2" stroke="#000" stroke-width="2"/>
<line x1="236.5" y1="1180.9" x2="236.5" y2="1186.2" stroke="#000" stroke-width="2"/>
<line x1="252.9" y1="1180.9" x2="252.9" y2="1191" stroke="#000" stroke-width="2"/>
<line x1="269.3" y1="1180.9" x2="269.3" y2="1186.2" stroke="#000" stroke-width="2"/>
<line x1="285.7" y1="1180.9" x2="285.7" y2="1186.2" stroke="#000" stroke-width="2"/>
<line x1="302.0" y1="1180.9" x2="302.0" y2="1186.2" stroke="#000" stroke-width="2"/>
<line x1="318.4" y1="1180.9" x2="318.4" y2="1186.2" stroke="#000" stroke-width="2"/>
<line x1="334.8" y1="1180.9" x2="334.8" y2="1191" stroke="#000" stroke-width="2"/>
<line x1="351.2" y1="1180.9" x2="351.2" y2="1186.2" stroke="#000" stroke-width="2"/>
<line x1="367.6" y1="1180.9" x2="367.6" y2="1186.2" stroke="#000" stroke-width="2"/>
<line x1="383.9" y1="1180.9" x2="383.9" y2="1186.2" stroke="#000" stroke-width="2"/>
<line x1="400.3" y1="1180.9" x2="400.3" y2="1186.2" stroke="#000" stroke-width="2"/>
<line x1="416.7" y1="1180.9" x2="416.7" y2="1191" stroke="#000" stroke-width="2"/>
<line x1="433.1" y1="1180.9" x2="433.1" y2="1186.2" stroke="#000" stroke-width="2"/>
<line x1="449.5" y1="1180.9" x2="449.5" y2="1186.2" stroke="#000" stroke-width="2"/>
<line x1="465.8" y1="1180.9" x2="465.8" y2="1186.2" stroke="#000" stroke-width="2"/>
<line x1="482.2" y1="1180.9" x2="482.2" y2="1186.2" stroke="#000" stroke-width="2"/>
<line x1="498.6" y1="1180.9" x2="498.6" y2="1191" stroke="#000" stroke-width="2"/>
<line x1="515.0" y1="1180.9" x2="515.0" y2="1186.2" stroke="#000" stroke-width="2"/>
<line x1="531.4" y1="1180.9" x2="531.4" y2="1186.2" stroke="#000" stroke-width="2"/>
<line x1="547.7" y1="1180.9" x2="547.7" y2="1186.2" stroke="#000" stroke-width="2"/>
<line x1="564.1" y1="1180.9" x2="564.1" y2="1186.2" stroke="#000" stroke-width="2"/>
<text x="141.5" y="962.1" font-size="33.4" text-anchor="end" >1.0</text>
<text x="141.5" y="1010.6" font-size="33.4" text-anchor="end" >0.8</text>
<text x="141.5" y="1059.2" font-size="33.4" text-anchor="end" >0.6</text>
<text x="141.5" y="1107.8" font-size="33.4" text-anchor="end" >0.4</text>
<text x="141.5" y="1156.3" font-size="33.4" text-anchor="end" >0.2</text>
<text x="170.0" y="1227.3" font-size="33.4" text-anchor="middle" >0</text>
<text x="251.9" y="1227.3" font-size="33.4" text-anchor="middle" >5</text>
<text x="334.8" y="1227.3" font-size="33.4" text-anchor="middle" >10</text>
<text x="416.7" y="1227.3" font-size="33.4" text-anchor="middle" >15</text>
<text x="498.6" y="1227.3" font-size="33.4" text-anchor="middle" >20</text>
<text x="384.5" y="1272.2" font-size="33.4" text-anchor="middle" >Hours</text>
<text transform="translate(65.1 1111) rotate(-90)" font-size="33.4">OD<tspan font-size="24.5" dy="8.5">600</tspan></text>
<polyline points="171.0,1174.2 187.4,1174.2 203.8,1174.2 220.1,1174.2 236.5,1174.2 252.9,1174.2 269.3,1174.2 285.7,1170.0 302.0,1156.5 318.4,1128.8 334.8,1101.4 351.2,1078.6 367.6,1058.0 383.9,1047.6 400.3,1038.9 416.7,1027.0 433.1,1015.6 449.5,1003.0 465.8,996.7 482.2,995.0 498.6,994.2 515.0,993.8 531.4,993.0 547.7,992.5 564.1,991.8" fill="none" stroke="#2C7FB8" stroke-width="2.6" stroke-linejoin="round"/>
<path d="M 171.0 1167.6 L 177.0 1178.1 L 165.0 1178.1 Z" fill="#2C7FB8" stroke="#2C7FB8" stroke-width="1.4" stroke-linejoin="round"/>
<path d="M 203.8 1167.6 L 209.8 1178.1 L 197.8 1178.1 Z" fill="#2C7FB8" stroke="#2C7FB8" stroke-width="1.4" stroke-linejoin="round"/>
<path d="M 236.5 1167.6 L 242.5 1178.1 L 230.5 1178.1 Z" fill="#2C7FB8" stroke="#2C7FB8" stroke-width="1.4" stroke-linejoin="round"/>
<path d="M 269.3 1167.6 L 275.3 1178.1 L 263.3 1178.1 Z" fill="#2C7FB8" stroke="#2C7FB8" stroke-width="1.4" stroke-linejoin="round"/>
<path d="M 302.0 1149.9 L 308.0 1160.4 L 296.0 1160.4 Z" fill="#2C7FB8" stroke="#2C7FB8" stroke-width="1.4" stroke-linejoin="round"/>
<path d="M 334.8 1094.8 L 340.8 1105.3 L 328.8 1105.3 Z" fill="#2C7FB8" stroke="#2C7FB8" stroke-width="1.4" stroke-linejoin="round"/>
<path d="M 367.6 1051.4 L 373.6 1061.9 L 361.6 1061.9 Z" fill="#2C7FB8" stroke="#2C7FB8" stroke-width="1.4" stroke-linejoin="round"/>
<path d="M 400.3 1032.3 L 406.3 1042.8 L 394.3 1042.8 Z" fill="#2C7FB8" stroke="#2C7FB8" stroke-width="1.4" stroke-linejoin="round"/>
<path d="M 433.1 1009.0 L 439.1 1019.5 L 427.1 1019.5 Z" fill="#2C7FB8" stroke="#2C7FB8" stroke-width="1.4" stroke-linejoin="round"/>
<path d="M 465.8 990.1 L 471.8 1000.6 L 459.8 1000.6 Z" fill="#2C7FB8" stroke="#2C7FB8" stroke-width="1.4" stroke-linejoin="round"/>
<path d="M 498.6 987.6 L 504.6 998.1 L 492.6 998.1 Z" fill="#2C7FB8" stroke="#2C7FB8" stroke-width="1.4" stroke-linejoin="round"/>
<path d="M 531.4 986.4 L 537.4 996.9 L 525.4 996.9 Z" fill="#2C7FB8" stroke="#2C7FB8" stroke-width="1.4" stroke-linejoin="round"/>
<path d="M 564.1 985.2 L 570.1 995.7 L 558.1 995.7 Z" fill="#2C7FB8" stroke="#2C7FB8" stroke-width="1.4" stroke-linejoin="round"/>
<polyline points="171.0,1173.7 187.4,1173.7 203.8,1173.7 220.1,1173.7 236.5,1173.7 252.9,1173.7 269.3,1173.7 285.7,1173.7 302.0,1173.7 318.4,1173.7 334.8,1173.7 351.2,1173.7 367.6,1173.7 383.9,1173.7 400.3,1173.7 416.7,1173.7 433.1,1173.7 449.5,1173.7 465.8,1173.7 482.2,1173.7 498.6,1173.7 515.0,1173.7 531.4,1173.7 547.7,1173.7 564.1,1173.7" fill="none" stroke="#253494" stroke-width="2.6" stroke-linejoin="round"/>
<path d="M 171.0 1167.9 L 176.1 1173.7 L 171.0 1179.5 L 165.9 1173.7 Z" fill="none" stroke="#253494" stroke-width="2.9"/>
<path d="M 203.8 1167.9 L 208.9 1173.7 L 203.8 1179.5 L 198.7 1173.7 Z" fill="none" stroke="#253494" stroke-width="2.9"/>
<path d="M 236.5 1167.9 L 241.6 1173.7 L 236.5 1179.5 L 231.4 1173.7 Z" fill="none" stroke="#253494" stroke-width="2.9"/>
<path d="M 269.3 1167.9 L 274.4 1173.7 L 269.3 1179.5 L 264.2 1173.7 Z" fill="none" stroke="#253494" stroke-width="2.9"/>
<path d="M 302.0 1167.9 L 307.1 1173.7 L 302.0 1179.5 L 296.9 1173.7 Z" fill="none" stroke="#253494" stroke-width="2.9"/>
<path d="M 334.8 1167.9 L 339.9 1173.7 L 334.8 1179.5 L 329.7 1173.7 Z" fill="none" stroke="#253494" stroke-width="2.9"/>
<path d="M 367.6 1167.9 L 372.7 1173.7 L 367.6 1179.5 L 362.5 1173.7 Z" fill="none" stroke="#253494" stroke-width="2.9"/>
<path d="M 400.3 1167.9 L 405.4 1173.7 L 400.3 1179.5 L 395.2 1173.7 Z" fill="none" stroke="#253494" stroke-width="2.9"/>
<path d="M 433.1 1167.9 L 438.2 1173.7 L 433.1 1179.5 L 428.0 1173.7 Z" fill="none" stroke="#253494" stroke-width="2.9"/>
<path d="M 465.8 1167.9 L 470.9 1173.7 L 465.8 1179.5 L 460.7 1173.7 Z" fill="none" stroke="#253494" stroke-width="2.9"/>
<path d="M 498.6 1167.9 L 503.7 1173.7 L 498.6 1179.5 L 493.5 1173.7 Z" fill="none" stroke="#253494" stroke-width="2.9"/>
<path d="M 531.4 1167.9 L 536.5 1173.7 L 531.4 1179.5 L 526.3 1173.7 Z" fill="none" stroke="#253494" stroke-width="2.9"/>
<path d="M 564.1 1167.9 L 569.2 1173.7 L 564.1 1179.5 L 559.0 1173.7 Z" fill="none" stroke="#253494" stroke-width="2.9"/>
<polyline points="171.0,1174.2 187.4,1173.7 203.8,1171.7 220.1,1165.2 236.5,1153.6 252.9,1132.9 269.3,1100.0 285.7,1073.8 302.0,1050.7 318.4,1035.5 334.8,1018.0 351.2,1007.1 367.6,1003.9 383.9,1000.3 400.3,998.4 416.7,997.9 433.1,997.9 449.5,997.4 465.8,996.7 482.2,995.4 498.6,993.0 515.0,991.8 531.4,990.4 547.7,989.4 564.1,988.4" fill="none" stroke="#A1DAB4" stroke-width="2.6" stroke-linejoin="round"/>
<circle cx="171.0" cy="1174.2" r="3.5" fill="none" stroke="#A1DAB4" stroke-width="3.2"/>
<circle cx="203.8" cy="1171.7" r="3.5" fill="none" stroke="#A1DAB4" stroke-width="3.2"/>
<circle cx="236.5" cy="1153.6" r="3.5" fill="none" stroke="#A1DAB4" stroke-width="3.2"/>
<circle cx="269.3" cy="1100.0" r="3.5" fill="none" stroke="#A1DAB4" stroke-width="3.2"/>
<circle cx="302.0" cy="1050.7" r="3.5" fill="none" stroke="#A1DAB4" stroke-width="3.2"/>
<circle cx="334.8" cy="1018.0" r="3.5" fill="none" stroke="#A1DAB4" stroke-width="3.2"/>
<circle cx="367.6" cy="1003.9" r="3.5" fill="none" stroke="#A1DAB4" stroke-width="3.2"/>
<circle cx="400.3" cy="998.4" r="3.5" fill="none" stroke="#A1DAB4" stroke-width="3.2"/>
<circle cx="433.1" cy="997.9" r="3.5" fill="none" stroke="#A1DAB4" stroke-width="3.2"/>
<circle cx="465.8" cy="996.7" r="3.5" fill="none" stroke="#A1DAB4" stroke-width="3.2"/>
<circle cx="498.6" cy="993.0" r="3.5" fill="none" stroke="#A1DAB4" stroke-width="3.2"/>
<circle cx="531.4" cy="990.4" r="3.5" fill="none" stroke="#A1DAB4" stroke-width="3.2"/>
<circle cx="564.1" cy="988.4" r="3.5" fill="none" stroke="#A1DAB4" stroke-width="3.2"/>
<polyline points="171.0,1174.2 187.4,1173.7 203.8,1172.5 220.1,1168.8 236.5,1159.6 252.9,1138.5 269.3,1107.0 285.7,1080.3 302.0,1060.4 318.4,1046.4 334.8,1035.7 351.2,1022.1 367.6,1008.8 383.9,1000.3 400.3,994.7 416.7,994.0 433.1,994.2 449.5,994.7 465.8,994.7 482.2,994.2 498.6,993.5 515.0,993.0 531.4,992.5 547.7,992.5 564.1,992.5" fill="none" stroke="#41B6C4" stroke-width="2.6" stroke-linejoin="round"/>
<rect x="167.4" y="1170.6" width="7.2" height="7.2" fill="none" stroke="#41B6C4" stroke-width="3"/>
<rect x="200.2" y="1168.9" width="7.2" height="7.2" fill="none" stroke="#41B6C4" stroke-width="3"/>
<rect x="232.9" y="1156.0" width="7.2" height="7.2" fill="none" stroke="#41B6C4" stroke-width="3"/>
<rect x="265.7" y="1103.4" width="7.2" height="7.2" fill="none" stroke="#41B6C4" stroke-width="3"/>
<line x1="302.0" y1="1055.4" x2="302.0" y2="1065.4" stroke="#41B6C4" stroke-width="2.4"/>
<line x1="297.0" y1="1055.4" x2="307.0" y2="1055.4" stroke="#41B6C4" stroke-width="2.4"/>
<line x1="297.0" y1="1065.4" x2="307.0" y2="1065.4" stroke="#41B6C4" stroke-width="2.4"/>
<rect x="298.4" y="1056.8" width="7.2" height="7.2" fill="none" stroke="#41B6C4" stroke-width="3"/>
<line x1="334.8" y1="1027.7" x2="334.8" y2="1043.7" stroke="#41B6C4" stroke-width="2.4"/>
<line x1="329.8" y1="1027.7" x2="339.8" y2="1027.7" stroke="#41B6C4" stroke-width="2.4"/>
<line x1="329.8" y1="1043.7" x2="339.8" y2="1043.7" stroke="#41B6C4" stroke-width="2.4"/>
<rect x="331.2" y="1032.1" width="7.2" height="7.2" fill="none" stroke="#41B6C4" stroke-width="3"/>
<line x1="367.6" y1="998.8" x2="367.6" y2="1018.8" stroke="#41B6C4" stroke-width="2.4"/>
<line x1="362.6" y1="998.8" x2="372.6" y2="998.8" stroke="#41B6C4" stroke-width="2.4"/>
<line x1="362.6" y1="1018.8" x2="372.6" y2="1018.8" stroke="#41B6C4" stroke-width="2.4"/>
<rect x="364.0" y="1005.2" width="7.2" height="7.2" fill="none" stroke="#41B6C4" stroke-width="3"/>
<line x1="400.3" y1="983.7" x2="400.3" y2="1005.7" stroke="#41B6C4" stroke-width="2.4"/>
<line x1="395.3" y1="983.7" x2="405.3" y2="983.7" stroke="#41B6C4" stroke-width="2.4"/>
<line x1="395.3" y1="1005.7" x2="405.3" y2="1005.7" stroke="#41B6C4" stroke-width="2.4"/>
<rect x="396.7" y="991.1" width="7.2" height="7.2" fill="none" stroke="#41B6C4" stroke-width="3"/>
<line x1="433.1" y1="983.2" x2="433.1" y2="1005.2" stroke="#41B6C4" stroke-width="2.4"/>
<line x1="428.1" y1="983.2" x2="438.1" y2="983.2" stroke="#41B6C4" stroke-width="2.4"/>
<line x1="428.1" y1="1005.2" x2="438.1" y2="1005.2" stroke="#41B6C4" stroke-width="2.4"/>
<rect x="429.5" y="990.6" width="7.2" height="7.2" fill="none" stroke="#41B6C4" stroke-width="3"/>
<line x1="465.8" y1="984.7" x2="465.8" y2="1004.7" stroke="#41B6C4" stroke-width="2.4"/>
<line x1="460.8" y1="984.7" x2="470.8" y2="984.7" stroke="#41B6C4" stroke-width="2.4"/>
<line x1="460.8" y1="1004.7" x2="470.8" y2="1004.7" stroke="#41B6C4" stroke-width="2.4"/>
<rect x="462.2" y="991.1" width="7.2" height="7.2" fill="none" stroke="#41B6C4" stroke-width="3"/>
<line x1="498.6" y1="984.5" x2="498.6" y2="1002.5" stroke="#41B6C4" stroke-width="2.4"/>
<line x1="493.6" y1="984.5" x2="503.6" y2="984.5" stroke="#41B6C4" stroke-width="2.4"/>
<line x1="493.6" y1="1002.5" x2="503.6" y2="1002.5" stroke="#41B6C4" stroke-width="2.4"/>
<rect x="495.0" y="989.9" width="7.2" height="7.2" fill="none" stroke="#41B6C4" stroke-width="3"/>
<line x1="531.4" y1="984.5" x2="531.4" y2="1000.5" stroke="#41B6C4" stroke-width="2.4"/>
<line x1="526.4" y1="984.5" x2="536.4" y2="984.5" stroke="#41B6C4" stroke-width="2.4"/>
<line x1="526.4" y1="1000.5" x2="536.4" y2="1000.5" stroke="#41B6C4" stroke-width="2.4"/>
<rect x="527.8" y="988.9" width="7.2" height="7.2" fill="none" stroke="#41B6C4" stroke-width="3"/>
<line x1="564.1" y1="983.5" x2="564.1" y2="1001.5" stroke="#41B6C4" stroke-width="2.4"/>
<line x1="559.1" y1="983.5" x2="569.1" y2="983.5" stroke="#41B6C4" stroke-width="2.4"/>
<line x1="559.1" y1="1001.5" x2="569.1" y2="1001.5" stroke="#41B6C4" stroke-width="2.4"/>
<rect x="560.5" y="988.9" width="7.2" height="7.2" fill="none" stroke="#41B6C4" stroke-width="3"/>
<line x1="608.8" y1="1009.4" x2="662" y2="1009.4" stroke="#A1DAB4" stroke-width="2.5"/>
<circle cx="635.1" cy="1009.4" r="6.9" fill="none" stroke="#A1DAB4" stroke-width="2.1"/>
<line x1="608.8" y1="1055.8" x2="662" y2="1055.8" stroke="#41B6C4" stroke-width="2.5"/>
<rect x="628.4" y="1049.2" width="13.4" height="13.4" fill="none" stroke="#41B6C4" stroke-width="2.5"/>
<line x1="608.8" y1="1101.9" x2="662" y2="1101.9" stroke="#2C7FB8" stroke-width="2.5"/>
<path d="M 635.3 1093 L 643.6 1106.7 L 627 1106.7 Z" fill="none" stroke="#2C7FB8" stroke-width="2.3"/>
<line x1="608.8" y1="1148.5" x2="662" y2="1148.5" stroke="#253494" stroke-width="2.5"/>
<path d="M 635.3 1138.6 L 645 1148.5 L 635.3 1158.4 L 625.6 1148.5 Z" fill="none" stroke="#253494" stroke-width="2.3"/>
<text x="673.5" y="1018.6" font-size="33.4" text-anchor="start" >Untreated</text>
<text x="673.5" y="1064.7" font-size="33.4" text-anchor="start" >10 <tspan font-family="Liberation Serif">μ</tspan>g/mL H2A</text>
<text x="673.5" y="1111.5" font-size="33.4" text-anchor="start" >1 <tspan font-family="Liberation Serif">μ</tspan>g/mL PMB</text>
<text x="673.5" y="1158.4" font-size="33.4" text-anchor="start" >10 <tspan font-family="Liberation Serif">μ</tspan>g/mL H2A +</text>
<text x="673.5" y="1197.7" font-size="33.4" text-anchor="start" >1 <tspan font-family="Liberation Serif">μ</tspan>g/mL PMB</text>
</svg></body></html>
